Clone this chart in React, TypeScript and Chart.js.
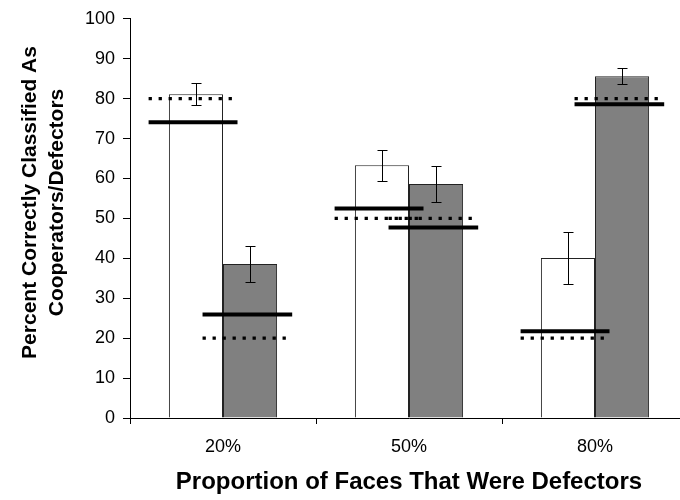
import React, { useEffect, useRef } from 'react';
import { Chart, registerables } from 'chart.js';

Chart.register(...registerables);

// ---- data ----
const categories = ['20%', '50%', '80%'];
const cooperatorsCorrect = [81.1, 63.3, 40.1];
const defectorsCorrect = [38.6, 58.6, 85.6];
const cooperatorsError = [2.7, 3.9, 6.5];
const defectorsError = [4.5, 4.5, 2.0];
const cooperatorsEstimate = [74.1, 52.5, 21.7];
const defectorsEstimate = [25.9, 47.7, 78.6];
const cooperatorsActual = [80, 50, 20];
const defectorsActual = [20, 50, 80];
const yMin = 0;
const yMax = 100;
const yStep = 10;
const yTitleLines = ['Percent Correctly Classified As', 'Cooperators/Defectors'];
const xTitle = 'Proportion of Faces That Were Defectors';

const FONT = '"Liberation Sans", Arial, Helvetica, sans-serif';

// horizontal reference segments, in category-width units around each category centre
const COOP_SPAN: [number, number] = [-0.4, 0.078];
const DEF_SPAN: [number, number] = [-0.11, 0.372];

const refLines = [
  { values: cooperatorsEstimate, span: COOP_SPAN, width: 4, dash: [] as number[] },
  { values: defectorsEstimate, span: DEF_SPAN, width: 4, dash: [] as number[] },
  { values: cooperatorsActual, span: COOP_SPAN, width: 3.3, dash: [3.3, 6.7] },
  { values: defectorsActual, span: DEF_SPAN, width: 3.3, dash: [3.3, 6.7] },
];

const refLinesPlugin = {
  id: 'refLines',
  afterDatasetsDraw(chart: any) {
    const ctx = chart.ctx;
    const xs = chart.scales.x;
    const ys = chart.scales.y;
    const catW = xs.getPixelForValue(1) - xs.getPixelForValue(0);
    ctx.save();
    ctx.strokeStyle = '#000';
    ctx.lineCap = 'butt';
    refLines.forEach((rl) => {
      ctx.lineWidth = rl.width;
      ctx.setLineDash(rl.dash);
      rl.values.forEach((v, i) => {
        const c = xs.getPixelForValue(i);
        const py = ys.getPixelForValue(v);
        ctx.beginPath();
        ctx.moveTo(c + rl.span[0] * catW, py);
        ctx.lineTo(c + rl.span[1] * catW, py);
        ctx.stroke();
      });
    });
    ctx.restore();
  },
};

const errorBarPlugin = {
  id: 'errorBars',
  afterDatasetsDraw(chart: any) {
    const ctx = chart.ctx;
    const yScale = chart.scales.y;
    const errs = [cooperatorsError, defectorsError];
    const vals = [cooperatorsCorrect, defectorsCorrect];
    ctx.save();
    ctx.strokeStyle = '#000';
    ctx.lineWidth = 1;
    ctx.setLineDash([]);
    [0, 1].forEach((di) => {
      const meta = chart.getDatasetMeta(di);
      meta.data.forEach((el: any, i: number) => {
        const x = Math.round(el.x) + 0.5;
        const yTop = Math.round(yScale.getPixelForValue(vals[di][i] + errs[di][i])) + 0.5;
        const yBot = Math.round(yScale.getPixelForValue(vals[di][i] - errs[di][i])) + 0.5;
        ctx.beginPath();
        ctx.moveTo(x, yTop);
        ctx.lineTo(x, yBot);
        ctx.moveTo(x - 5, yTop);
        ctx.lineTo(x + 5, yTop);
        ctx.moveTo(x - 5, yBot);
        ctx.lineTo(x + 5, yBot);
        ctx.stroke();
      });
    });
    ctx.restore();
  },
};

const yTitlePlugin = {
  id: 'yTitle',
  afterDraw(chart: any) {
    const ctx = chart.ctx;
    ctx.save();
    ctx.font = `bold 21px ${FONT}`;
    ctx.fillStyle = '#000';
    ctx.textAlign = 'center';
    ctx.textBaseline = 'alphabetic';
    const cy = 202.5;
    const baselines = [36, 63];
    yTitleLines.forEach((line, k) => {
      ctx.save();
      ctx.translate(baselines[k], cy);
      ctx.rotate(-Math.PI / 2);
      ctx.fillText(line, 0, 0);
      ctx.restore();
    });
    ctx.restore();
  },
};

const barBase = {
  type: 'bar',
  borderColor: '#222222',
  borderWidth: 1,
  categoryPercentage: 0.5816,
  barPercentage: 1.0,
};

export default function App() {
  const canvasRef = useRef<HTMLCanvasElement | null>(null);

  useEffect(() => {
    if (!canvasRef.current) return;
    Chart.defaults.font.family = FONT;
    const chart = new Chart(canvasRef.current, {
      type: 'bar',
      data: {
        labels: categories,
        datasets: [
          {
            ...barBase,
            label: 'Cooperators',
            data: cooperatorsCorrect,
            backgroundColor: '#ffffff',
          } as any,
          {
            ...barBase,
            label: 'Defectors',
            data: defectorsCorrect,
            backgroundColor: '#808080',
          } as any,
        ],
      },
      options: {
        animation: false,
        responsive: false,
        devicePixelRatio: 1,
        layout: { padding: { left: 60, right: 12, top: 15, bottom: 0 } },
        plugins: {
          legend: { display: false },
          tooltip: { enabled: false },
        },
        scales: {
          x: {
            type: 'category',
            offset: true,
            grid: {
              display: true,
              offset: true,
              drawOnChartArea: false,
              drawTicks: true,
              tickLength: 6,
              color: '#000',
              lineWidth: 1,
            },
            border: { display: true, color: '#000', width: 1 },
            ticks: { color: '#000', font: { size: 18, family: FONT }, padding: 12 },
            title: {
              display: true,
              text: xTitle,
              color: '#000',
              font: { size: 24, weight: 'bold', family: FONT },
              padding: { top: 0, bottom: 3 },
            },
            afterFit: (scale: any) => {
              scale.height = 82;
            },
          },
          y: {
            type: 'linear',
            min: yMin,
            max: yMax,
            grid: {
              display: true,
              drawOnChartArea: false,
              drawTicks: true,
              tickLength: 7,
              color: '#000',
              lineWidth: 1,
            },
            border: { display: true, color: '#000', width: 1 },
            ticks: {
              stepSize: yStep,
              color: '#000',
              font: { size: 18, family: FONT },
              padding: 8,
            },
            afterFit: (scale: any) => {
              scale.width = 70;
            },
          },
        },
      } as any,
      plugins: [refLinesPlugin, errorBarPlugin, yTitlePlugin],
    });
    return () => chart.destroy();
  }, []);

  return (
    <div
      style={{
        position: 'fixed',
        left: 0,
        top: 0,
        width: 680,
        height: 500,
        overflow: 'hidden',
        background: '#fff',
      }}
    >
      <canvas ref={canvasRef} width={700} height={500} style={{ display: 'block' }} />
    </div>
  );
}
